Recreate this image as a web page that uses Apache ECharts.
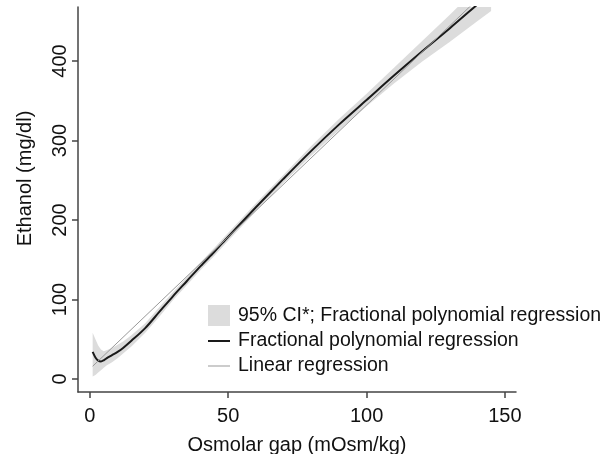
<!DOCTYPE html>
<html>
<head>
<meta charset="utf-8">
<script src="https://cdn.jsdelivr.net/npm/echarts@6/dist/echarts.min.js"></script>
<style>
  html, body { margin: 0; padding: 0; background: #fff; }
  #chart { width: 613px; height: 454px; }
</style>
</head>
<body>
<div id="chart"></div>
<script>
// osmolar gap values (mOsm/kg) where the curves were read
const gapX = [1, 2, 3, 4, 5, 6, 8, 10, 12, 15, 20, 25, 30, 35, 40, 45, 50, 60, 70, 80, 90, 100, 110, 120, 130, 140, 145];
// fractional polynomial fit (mg/dl)
const fracPoly = [34, 27, 23, 22, 23.5, 26, 30, 34, 39, 48, 64, 84, 104, 123, 142, 160, 179, 216, 252, 287, 320, 351, 382, 412, 441, 471, 486];
// 95% CI bounds
const ciLower = [3, 5, 8, 11, 14, 17, 21, 26, 32, 41, 58, 78, 99, 118, 137, 155, 174, 211, 247, 281, 313, 343, 372, 399, 424, 450, 463];
const ciUpper = [58, 50, 42, 37, 35, 36, 39, 43, 47, 55, 70, 90, 109, 128, 147, 165, 184, 221, 257, 293, 327, 359, 392, 425, 458, 492, 509];
// linear regression end points
const linearX = [1, 145];
const linearY = [16, 494];

const xTicks = [0, 50, 100, 150];
const yTicks = [0, 100, 200, 300, 400];

const CI_NAME = '95% CI*; Fractional polynomial regression';
const FP_NAME = 'Fractional polynomial regression';
const LIN_NAME = 'Linear regression';

const font = '"Liberation Sans", Arial, sans-serif';
const axisColor = '#444';
const bandColor = '#dcdcdc';

const pairs = (xs, ys) => xs.map((x, i) => [x, ys[i]]);

const chart = echarts.init(document.getElementById('chart'));

const option = {
  animation: false,
  backgroundColor: '#fff',
  grid: { left: 78, right: 97, top: 7, bottom: 62, outerBoundsMode: 'none' },
  legend: {
    orient: 'vertical',
    left: 203,
    top: 300,
    itemWidth: 22,
    itemHeight: 21,
    itemGap: 5,
    textStyle: { fontFamily: font, fontSize: 19.5, color: '#111', padding: [0, 0, 0, 3] },
    data: [
      { name: CI_NAME, icon: 'rect', itemStyle: { color: bandColor } },
      { name: FP_NAME, icon: 'path://M0,0 H22 V2 H0 Z', itemStyle: { color: '#1a1a1a' } },
      { name: LIN_NAME, icon: 'path://M0,0 H22 V1 H0 Z', itemStyle: { color: '#999' } }
    ]
  },
  xAxis: {
    type: 'value',
    min: -4.3,
    max: 154,
    name: 'Osmolar gap (mOsm/kg)',
    nameLocation: 'middle',
    nameGap: 43,
    nameTextStyle: { fontFamily: font, fontSize: 20, color: '#111' },
    axisLine: { onZero: false, lineStyle: { color: axisColor, width: 1.5 } },
    axisTick: { customValues: xTicks, length: 6, lineStyle: { color: axisColor, width: 1.5 } },
    axisLabel: { customValues: xTicks, margin: 14, fontFamily: font, fontSize: 20, color: '#111' },
    splitLine: { show: false }
  },
  yAxis: {
    type: 'value',
    min: -16.4,
    max: 468,
    name: 'Ethanol (mg/dl)',
    nameLocation: 'middle',
    nameGap: 43,
    nameTextStyle: { fontFamily: font, fontSize: 20, color: '#111', padding: [0, 0, 0, 42] },
    axisLine: { onZero: false, lineStyle: { color: axisColor, width: 1.5 } },
    axisTick: { customValues: yTicks, length: 6, lineStyle: { color: axisColor, width: 1.5 } },
    axisLabel: { customValues: yTicks, rotate: 90, margin: 8, fontFamily: font, fontSize: 20, color: '#111' },
    splitLine: { show: false }
  },
  series: [
    {
      name: CI_NAME,
      type: 'custom',
      clip: true,
      silent: true,
      itemStyle: { color: bandColor },
      data: [[gapX[0], ciLower[0]]],
      renderItem: function (params, api) {
        const upper = gapX.map((x, i) => api.coord([x, ciUpper[i]]));
        const lower = gapX.map((x, i) => api.coord([x, ciLower[i]])).reverse();
        return {
          type: 'polygon',
          shape: { points: upper.concat(lower) },
          style: { fill: bandColor }
        };
      }
    },
    {
      name: FP_NAME,
      type: 'line',
      symbol: 'none',
      smooth: 0.3,
      itemStyle: { color: '#1a1a1a' },
      lineStyle: { color: '#1a1a1a', width: 2 },
      data: pairs(gapX, fracPoly)
    },
    {
      name: LIN_NAME,
      type: 'line',
      symbol: 'none',
      itemStyle: { color: '#999' },
      lineStyle: { color: '#999', width: 1 },
      data: pairs(linearX, linearY)
    }
  ]
};

chart.setOption(option);
window.addEventListener('resize', () => chart.resize());
</script>
</body>
</html>
